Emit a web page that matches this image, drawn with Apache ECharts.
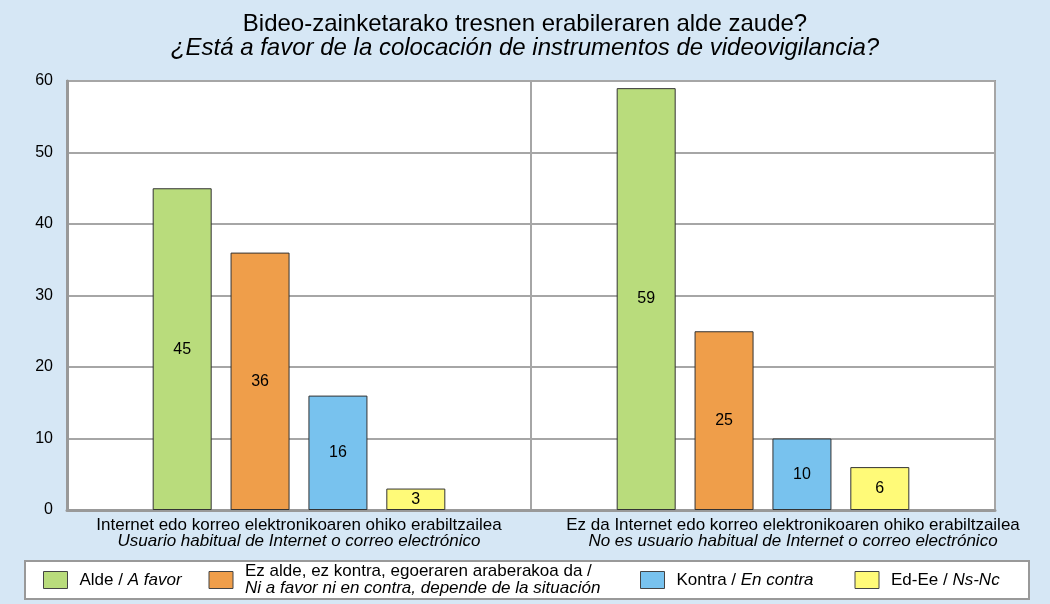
<!DOCTYPE html>
<html>
<head>
<meta charset="utf-8">
<script src="https://cdn.jsdelivr.net/npm/echarts@6/dist/echarts.min.js"></script>
<style>
html,body{margin:0;padding:0;background:#d6e7f5;}
#main{width:1050px;height:604px;}
</style>
</head>
<body>
<div id="main"></div>
<script>
const titleEu = 'Bideo-zainketarako tresnen erabileraren alde zaude?';
const titleEs = '¿Está a favor de la colocación de instrumentos de videovigilancia?';
const categoriesEu = ['Internet edo korreo elektronikoaren ohiko erabiltzailea', 'Ez da Internet edo korreo elektronikoaren ohiko erabiltzailea'];
const categoriesEs = ['Usuario habitual de Internet o correo electrónico', 'No es usuario habitual de Internet o correo electrónico'];
const seriesNamesEu = ['Alde / ', 'Ez alde, ez kontra, egoeraren araberakoa da /', 'Kontra / ', 'Ed-Ee / '];
const seriesNamesEs = ['A favor', 'Ni a favor ni en contra, depende de la situación', 'En contra', 'Ns-Nc'];
const aFavor = [45, 59];
const niNi = [36, 25];
const enContra = [16, 10];
const nsNc = [3, 6];
const yTicks = [0, 10, 20, 30, 40, 50, 60];

const colors = ['#b9dc7c', '#ef9e4a', '#78c2ee', '#fffa78'];
const values = [aFavor, niNi, enContra, nsNc];
const FONT = "'Liberation Sans', Arial, sans-serif";
const LEG_FS = 17;
// width reserved for each legend item's text (layout)
const legendTextSlots = [129, 395, 178, 125];

const mctx = document.createElement('canvas').getContext('2d');
function tw(text, size, italic) {
  mctx.font = (italic ? 'italic ' : '') + size + 'px ' + FONT;
  return mctx.measureText(text).width;
}

const chart = echarts.init(document.getElementById('main'), null, {renderer: 'canvas'});

const names = seriesNamesEu.map((e, i) => e + '|' + seriesNamesEs[i]);

const legendRich = {
  n: {fontSize: LEG_FS, color: '#000', fontFamily: FONT, lineHeight: 17},
  i: {fontSize: LEG_FS, color: '#000', fontFamily: FONT, fontStyle: 'italic', lineHeight: 17}
};
names.forEach((nm, k) => {
  const eu = seriesNamesEu[k], es = seriesNamesEs[k];
  let used;
  if (eu.endsWith('/')) {
    used = tw(es, LEG_FS, true);
  } else {
    used = tw(eu, LEG_FS, false) + tw(es, LEG_FS, true);
  }
  legendRich['s' + k] = {width: Math.max(0, legendTextSlots[k] - used), fontSize: LEG_FS, lineHeight: 17};
});

const series = values.map((v, i) => ({
  name: names[i],
  type: 'bar',
  data: v,
  barWidth: 59,
  barGap: '32%',
  itemStyle: {color: colors[i], borderColor: '#333', borderWidth: 1},
  label: {show: true, position: 'inside', color: '#000', fontSize: 16, fontFamily: FONT},
  emphasis: {disabled: true}
}));

chart.setOption({
  animation: false,
  backgroundColor: '#d6e7f5',
  title: {
    text: titleEu,
    subtext: titleEs,
    left: 'center',
    top: 7,
    itemGap: 0,
    textStyle: {fontSize: 24, fontWeight: 'normal', color: '#000', fontFamily: FONT},
    subtextStyle: {fontSize: 24, fontStyle: 'italic', color: '#000', fontFamily: FONT}
  },
  grid: {
    left: 67, right: 55, top: 81, bottom: 94,
    show: true, backgroundColor: '#fff', borderColor: '#999', borderWidth: 2
  },
  legend: {
    left: 25, top: 561,
    backgroundColor: '#fff', borderColor: '#999', borderWidth: 2,
    padding: [2, 13, 2, 18],
    itemWidth: 24, itemHeight: 17, itemGap: 0,
    icon: 'rect',
    selectedMode: false,
    itemStyle: {borderColor: '#444', borderWidth: 1},
    formatter: function (name) {
      const k = names.indexOf(name);
      const p = name.split('|');
      if (p[0].endsWith('/')) {
        return '{n|' + p[0] + '}\n{i|' + p[1] + '}{s' + k + '| }';
      }
      return '{n|' + p[0] + '}{i|' + p[1] + '}{s' + k + '| }';
    },
    textStyle: {
      fontSize: LEG_FS, color: '#000', fontFamily: FONT, padding: [0, 0, 0, 7],
      rich: legendRich
    }
  },
  xAxis: {
    type: 'category',
    data: categoriesEu,
    axisTick: {show: false},
    axisLine: {show: true, lineStyle: {color: '#999', width: 3}},
    splitLine: {show: true, lineStyle: {color: '#a6a6a6', width: 2}},
    axisLabel: {
      margin: 7,
      interval: 0,
      formatter: function (v, i) {
        if (i === 1) return '{a2|' + categoriesEu[i] + '}\n{b2|' + categoriesEs[i] + '}';
        return '{a|' + categoriesEu[i] + '}\n{b|' + categoriesEs[i] + '}';
      },
      rich: {
        a: {fontSize: 17, color: '#000', fontFamily: FONT, lineHeight: 16},
        b: {fontSize: 17, color: '#000', fontFamily: FONT, fontStyle: 'italic', lineHeight: 16},
        a2: {fontSize: 17, color: '#000', fontFamily: FONT, lineHeight: 16, padding: [0, 0, 0, 60]},
        b2: {fontSize: 17, color: '#000', fontFamily: FONT, fontStyle: 'italic', lineHeight: 16, padding: [0, 0, 0, 60]}
      }
    }
  },
  yAxis: {
    type: 'value',
    min: yTicks[0],
    max: yTicks[yTicks.length - 1],
    interval: yTicks[1] - yTicks[0],
    axisLine: {show: true, lineStyle: {color: '#999', width: 3}},
    axisTick: {show: false},
    splitLine: {show: true, lineStyle: {color: '#a6a6a6', width: 2}},
    axisLabel: {color: '#000', fontSize: 16, fontFamily: FONT, margin: 14}
  },
  series: series
});
</script>
</body>
</html>
